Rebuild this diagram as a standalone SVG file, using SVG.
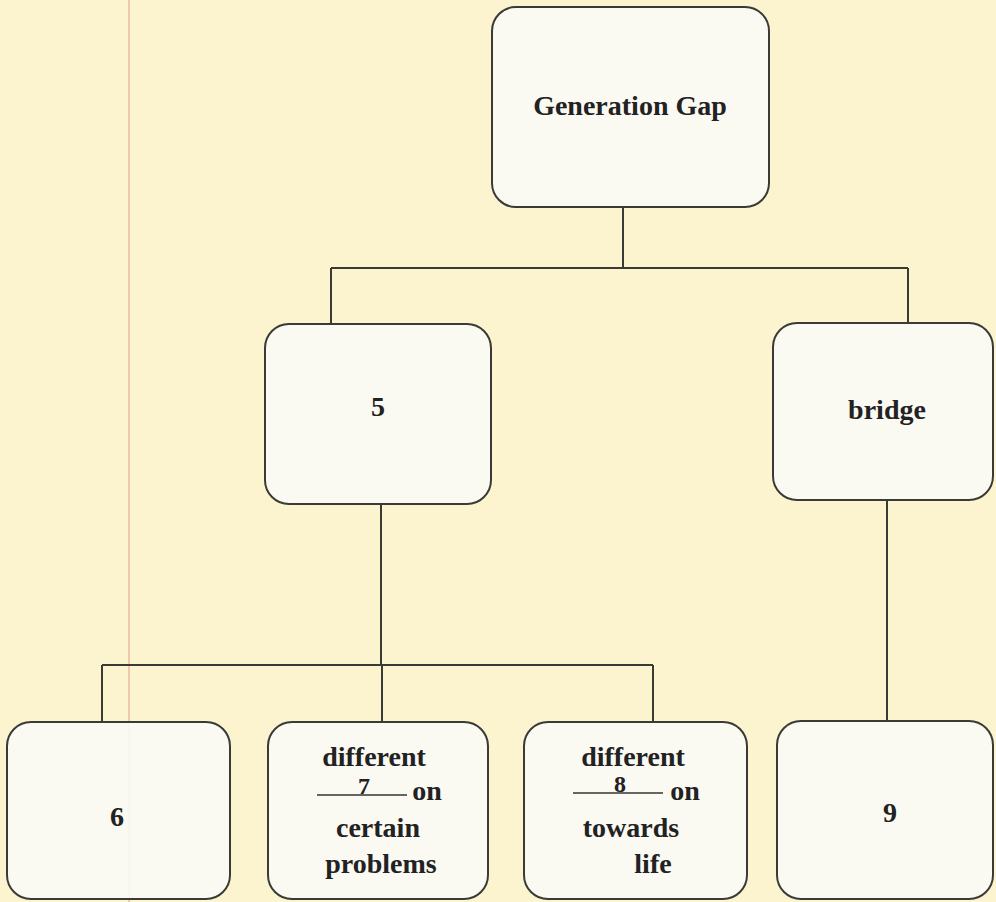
<svg xmlns="http://www.w3.org/2000/svg" width="996" height="902" viewBox="0 0 996 902">
<style>
.node rect{fill:#fafaf5;fill-opacity:0.92;stroke:#3a3a36;stroke-width:2}
.node text{font-family:"Liberation Serif","Times New Roman",serif;font-weight:bold;font-size:28px;fill:#222;text-anchor:middle}
.node text.digit{font-size:24px}
#connectors path{fill:none;stroke:#3a3a36;stroke-width:2}
.blank{stroke:#333;stroke-width:1.6}
</style>
<rect x="0" y="0" width="996" height="902" fill="#fcf3cf"/>
<line x1="129" y1="0" x2="129" y2="902" stroke="#f2c9a8" stroke-width="2"/>
<g id="connectors">
<path d="M623 207 V268 M331 268 H908 M331 268 V324 M908 268 V323"/>
<path d="M381 504 V665 M102 665 H653 M102 665 V722 M382 665 V722 M653 665 V722"/>
<path d="M887 500 V722"/>
</g>
<g id="node-root" class="node">
<rect x="492" y="7" width="277" height="200" rx="24"/>
<text x="630" y="115" font-family="Liberation Serif, serif">Generation Gap</text>
</g>
<g id="node-5" class="node">
<rect x="265" y="324" width="226" height="180" rx="24"/>
<text x="378" y="416" font-family="Liberation Serif, serif">5</text>
</g>
<g id="node-bridge" class="node">
<rect x="773" y="323" width="220" height="177" rx="24"/>
<text x="887" y="419" font-family="Liberation Serif, serif">bridge</text>
</g>
<g id="node-6" class="node">
<rect x="7" y="722" width="223" height="177" rx="24"/>
<text x="117" y="826" font-family="Liberation Serif, serif">6</text>
</g>
<g id="node-7" class="node">
<rect x="268" y="722" width="220" height="177" rx="24"/>
<text x="374" y="766" font-family="Liberation Serif, serif">different</text>
<line class="blank" x1="317" y1="795" x2="407" y2="795"/>
<text class="digit" x="364" y="794" font-family="Liberation Serif, serif">7</text>
<text x="427" y="800" font-family="Liberation Serif, serif">on</text>
<text x="378" y="837" font-family="Liberation Serif, serif">certain</text>
<text x="381" y="873" font-family="Liberation Serif, serif">problems</text>
</g>
<g id="node-8" class="node">
<rect x="524" y="722" width="223" height="177" rx="24"/>
<text x="633" y="766" font-family="Liberation Serif, serif">different</text>
<line class="blank" x1="573" y1="793" x2="663" y2="793"/>
<text class="digit" x="620" y="792" font-family="Liberation Serif, serif">8</text>
<text x="685" y="800" font-family="Liberation Serif, serif">on</text>
<text x="631" y="837" font-family="Liberation Serif, serif">towards</text>
<text x="653" y="873" font-family="Liberation Serif, serif">life</text>
</g>
<g id="node-9" class="node">
<rect x="777" y="721" width="216" height="178" rx="24"/>
<text x="890" y="822" font-family="Liberation Serif, serif">9</text>
</g>
</svg>
